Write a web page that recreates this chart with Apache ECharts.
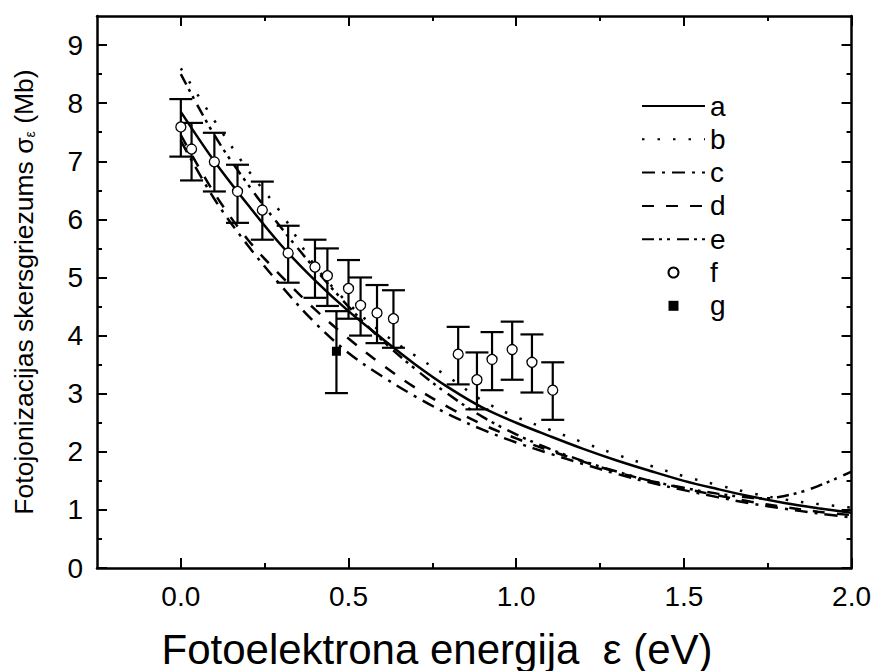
<!DOCTYPE html>
<html><head><meta charset="utf-8">
<script src="https://cdn.jsdelivr.net/npm/echarts@6/dist/echarts.min.js"></script>
<style>html,body{margin:0;padding:0;background:#fff}#c{width:874px;height:671px}</style>
</head><body><div id="c"></div>
<script>
// ---- axis ticks ----
const xTicks = [0, 0.5, 1.0, 1.5, 2.0];
const xMinorTicks = [0.25, 0.75, 1.25, 1.75];
const yTicks = [0, 1, 2, 3, 4, 5, 6, 7, 8, 9];
const yMinorTicks = [0.5, 1.5, 2.5, 3.5, 4.5, 5.5, 6.5, 7.5, 8.5];

// ---- theory curves ----
const curveX = [0, 0.1, 0.2, 0.3, 0.4, 0.5, 0.6, 0.7, 0.8, 0.9, 1.0, 1.1, 1.2, 1.3, 1.4, 1.5, 1.6, 1.7, 1.8, 1.9, 2.0];
const curveA = [7.85, 7.0, 6.25, 5.55, 4.95, 4.42, 3.95, 3.5, 3.1, 2.76, 2.5, 2.27, 2.05, 1.85, 1.67, 1.5, 1.36, 1.23, 1.12, 1.03, 0.95];
const curveB = [8.6, 7.7, 6.85, 6.1, 5.2, 4.55, 4.05, 3.65, 3.28, 2.88, 2.6, 2.38, 2.16, 1.95, 1.76, 1.58, 1.43, 1.29, 1.18, 1.1, 1.04];
const curveC = [7.35, 6.35, 5.55, 4.85, 4.22, 3.7, 3.3, 2.95, 2.64, 2.38, 2.16, 1.97, 1.79, 1.62, 1.47, 1.34, 1.22, 1.11, 1.02, 0.94, 0.87];
const curveD = [7.45, 6.45, 5.65, 5.02, 4.45, 3.95, 3.5, 3.1, 2.76, 2.47, 2.23, 2.02, 1.83, 1.65, 1.5, 1.37, 1.25, 1.14, 1.05, 0.97, 0.91];
const curveEX = [0, 0.1, 0.2, 0.3, 0.4, 0.5, 0.6, 0.7, 0.8, 0.9, 1.0, 1.1, 1.2, 1.3, 1.4, 1.5, 1.6, 1.7, 1.75, 1.8, 1.85, 1.9, 1.95, 2.0];
const curveE = [8.5, 7.45, 6.6, 5.85, 5.15, 4.5, 3.92, 3.42, 2.98, 2.6, 2.3, 2.05, 1.84, 1.66, 1.5, 1.38, 1.28, 1.21, 1.2, 1.24, 1.31, 1.41, 1.53, 1.66];

// ---- measured points f ----
const fX = [0.0, 0.032, 0.10, 0.169, 0.243, 0.32, 0.40, 0.437, 0.50, 0.536, 0.585, 0.634, 0.827, 0.883, 0.928, 0.988, 1.047, 1.109];
const fY = [7.59, 7.21, 6.99, 6.48, 6.16, 5.42, 5.18, 5.03, 4.81, 4.52, 4.39, 4.29, 3.68, 3.24, 3.59, 3.76, 3.54, 3.06];
const fLow = [7.08, 6.67, 6.48, 5.94, 5.65, 4.91, 4.65, 4.51, 4.29, 4.00, 3.87, 3.79, 3.16, 2.73, 3.06, 3.24, 3.02, 2.55];
const fHigh = [8.07, 7.66, 7.49, 6.94, 6.65, 5.89, 5.65, 5.50, 5.30, 5.00, 4.87, 4.78, 4.15, 3.71, 4.06, 4.24, 4.02, 3.54];

// ---- measured point g ----
const gX = [0.464];
const gY = [3.73];
const gLow = [3.01];
const gHigh = [4.42];

const FONT = '"Liberation Sans", Arial, sans-serif';
const chart = echarts.init(document.getElementById('c'), null, {renderer: 'svg'});

function zip(xs, ys) { return xs.map((x, i) => [x, ys[i]]); }

function xAxisDef(pos, vals, len, showLine, showLabel) {
  return {
    type: 'value', position: pos, min: -0.25, max: 2.0,
    axisLine: {show: showLine, onZero: false, lineStyle: {color: '#000', width: 2.5}},
    axisTick: {show: true, inside: true, length: len, customValues: vals, lineStyle: {color: '#000', width: 2}},
    axisLabel: {show: showLabel, customValues: xTicks, margin: 14, color: '#000', fontSize: 28, fontFamily: FONT,
      formatter: v => v.toFixed(1)},
    splitLine: {show: false}
  };
}
function yAxisDef(pos, vals, len, showLine, showLabel) {
  return {
    type: 'value', position: pos, min: 0, max: 9.5,
    axisLine: {show: showLine, onZero: false, lineStyle: {color: '#000', width: 2.5}},
    axisTick: {show: true, inside: true, length: len, customValues: vals, lineStyle: {color: '#000', width: 2}},
    axisLabel: {show: showLabel, customValues: yTicks, margin: 14, color: '#000', fontSize: 28, fontFamily: FONT,
      formatter: v => String(v)},
    splitLine: {show: false}
  };
}

const xAxes = [
  xAxisDef('bottom', xTicks, 10, true, true),
  xAxisDef('bottom', xMinorTicks, 5, false, false),
  xAxisDef('top', xTicks, 10, true, false),
  xAxisDef('top', xMinorTicks, 5, false, false)
];
const yAxes = [
  yAxisDef('left', yTicks, 10, true, true),
  yAxisDef('left', yMinorTicks, 5, false, false),
  yAxisDef('right', yTicks, 10, true, false),
  yAxisDef('right', yMinorTicks, 5, false, false)
];
yAxes[0].name = 'Fotojonizacijas skersgriezums σ{sub|ε} (Mb)';
yAxes[0].nameLocation = 'middle';
yAxes[0].nameRotate = 90;
yAxes[0].nameGap = 60;
yAxes[0].nameTextStyle = {color: '#000', fontSize: 26.5, fontFamily: FONT,
  rich: {sub: {fontSize: 14, fontFamily: FONT, color: '#000', verticalAlign: 'bottom', padding: [10, 0, 0, 0]}}};

function lineSeries(name, xs, ys, dash, width) {
  return {
    name, type: 'line', data: zip(xs, ys), smooth: 0.35, symbol: 'none', silent: true, z: 2,
    lineStyle: {color: '#000', width: width, type: dash, cap: 'butt'},
    itemStyle: {color: '#000'}
  };
}

function errRender(params, api) {
  const x = api.value(0), lo = api.value(1), hi = api.value(2);
  const pLo = api.coord([x, lo]), pHi = api.coord([x, hi]);
  const hw = 11.5;
  const st = {stroke: '#000', lineWidth: 2.2};
  return {type: 'group', children: [
    {type: 'line', shape: {x1: pLo[0], y1: pLo[1], x2: pHi[0], y2: pHi[1]}, style: st},
    {type: 'line', shape: {x1: pLo[0] - hw, y1: pLo[1], x2: pLo[0] + hw, y2: pLo[1]}, style: st},
    {type: 'line', shape: {x1: pHi[0] - hw, y1: pHi[1], x2: pHi[0] + hw, y2: pHi[1]}, style: st}
  ]};
}

const hideSym = {opacity: 0};
const option = {
  backgroundColor: '#fff',
  animation: false,
  grid: {left: 97, right: 18, top: 16, bottom: 103, containLabel: false},
  xAxis: xAxes,
  yAxis: yAxes,
  legend: {
    orient: 'vertical', left: 636, top: 86,
    itemWidth: 63, itemHeight: 10, itemGap: 3.3,
    textStyle: {color: '#000', fontSize: 28, fontFamily: FONT, lineHeight: 30},
    data: [
      {name: 'a', itemStyle: hideSym},
      {name: 'b', itemStyle: hideSym},
      {name: 'c', itemStyle: hideSym},
      {name: 'd', itemStyle: hideSym},
      {name: 'e', itemStyle: hideSym},
      {name: 'f', icon: 'circle'},
      {name: 'g', icon: 'path://M0,0L10,0L10,10L0,10Z'}
    ],
    selectedMode: false
  },
  graphic: [{
    type: 'text', left: 'center', top: 628,
    style: {text: 'Fotoelektrona energija  ε (eV)', fill: '#000', font: '42px "Liberation Sans", Arial, sans-serif'},
    x: -40
  }],
  series: [
    lineSeries('a', curveX, curveA, 'solid', 2.5),
    lineSeries('b', curveX, curveB, [2.5, 13], 2.5),
    lineSeries('c', curveX, curveC, [13, 7, 3, 7], 2.5),
    lineSeries('d', curveX, curveD, [12, 12], 2.5),
    lineSeries('e', curveEX, curveE, [12, 5, 3, 5, 3, 7], 2.5),
    {type: 'custom', name: 'fErr', data: fX.map((x, i) => [x, fLow[i], fHigh[i]]), renderItem: errRender,
      encode: {x: 0, y: [1, 2]}, z: 3, silent: true},
    {type: 'custom', name: 'gErr', data: gX.map((x, i) => [x, gLow[i], gHigh[i]]), renderItem: errRender,
      encode: {x: 0, y: [1, 2]}, z: 3, silent: true},
    {name: 'f', type: 'scatter', data: zip(fX, fY), symbol: 'circle', symbolSize: 10, z: 5,
      itemStyle: {color: '#fff', borderColor: '#000', borderWidth: 1.3, opacity: 1}},
    {name: 'g', type: 'scatter', data: zip(gX, gY), symbol: 'rect', symbolSize: 9, z: 5,
      itemStyle: {color: '#000', borderColor: '#000', borderWidth: 0, opacity: 1}}
  ]
};
chart.setOption(option);
</script>
</body></html>
